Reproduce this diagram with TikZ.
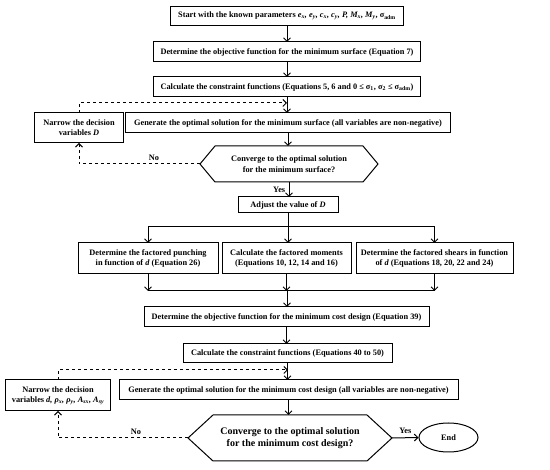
\documentclass[tikz,border=0pt]{standalone}
\usepackage{fontspec}
\setmainfont{Liberation Serif}
\usetikzlibrary{shapes.geometric,arrows.meta}
\begin{document}
\begin{tikzpicture}[x=1pt,y=-1pt,
    box/.style={draw,line width=1pt,inner sep=1pt,outer sep=0pt,align=center,
        font=\fontsize{8.3}{10}\selectfont\bfseries},
    hexa/.style={inner sep=1pt,outer sep=0pt,align=center,
        font=\fontsize{8.3}{10.5}\selectfont\bfseries},
    lbl/.style={font=\fontsize{8.3}{10}\selectfont\bfseries},
    line/.style={line width=1pt},
    flow/.style={line width=1pt,-{Straight Barb[length=3.5pt,width=7pt]}},
    back/.style={line width=1pt,dashed,-{Straight Barb[length=3.5pt,width=7pt]}}]
    \useasboundingbox (0,0) rectangle (550,470);
    % first stage: minimum surface
    \node[box,minimum width=233pt,minimum height=19pt] (start) at (287,16)
        {Start with the known parameters \textit{e\textsubscript{x}, e\textsubscript{y}, c\textsubscript{x}, c\textsubscript{y}, P, M\textsubscript{x}, M\textsubscript{y}}, σ\textsubscript{adm}};
    \node[box,minimum width=267pt,minimum height=20pt] (objA) at (287,52)
        {Determine the objective function for the minimum surface (Equation 7)};
    \node[box,minimum width=267pt,minimum height=20pt] (conA) at (287,87)
        {Calculate the constraint functions (Equations 5, 6 and 0 ≤ σ\textsubscript{1}, σ\textsubscript{2} ≤ σ\textsubscript{adm})};
    \node[box,minimum width=325pt,minimum height=20pt] (genA) at (288,123)
        {Generate the optimal solution for the minimum surface (all variables are non-negative)};
    \node[box,minimum width=89pt,minimum height=30pt] (narA) at (79,128)
        {Narrow the decision\\variables \textit{D}};
    \node[hexa,minimum width=178pt,minimum height=36pt] (hexA) at (289,164)
        {Converge to the optimal solution\\for the minimum surface?};
    \draw[line] (hexA.west) -- ([xshift=15pt]hexA.north west) -- ([xshift=-15pt]hexA.north east)
        -- (hexA.east) -- ([xshift=-15pt]hexA.south east) -- ([xshift=15pt]hexA.south west) -- cycle;
    \node[box,minimum width=100pt,minimum height=16pt] (adj) at (288,205)
        {Adjust the value of \textit{D}};
    % factored actions
    \node[box,minimum width=140pt,minimum height=31pt] (punch) at (148,258.5)
        {Determine the factored punching\\in function of \textit{d} (Equation 26)};
    \node[box,minimum width=129pt,minimum height=31pt] (moment) at (286.5,258.5)
        {Calculate the factored moments\\(Equations 10, 12, 14 and 16)};
    \node[box,minimum width=157pt,minimum height=31pt] (shear) at (434.5,258.5)
        {Determine the factored shears in function\\of \textit{d} (Equations 18, 20, 22 and 24)};
    % second stage: minimum cost
    \node[box,minimum width=285pt,minimum height=20pt] (objB) at (286.5,317)
        {Determine the objective function for the minimum cost design (Equation 39)};
    \node[box,minimum width=209pt,minimum height=19pt] (conB) at (287.5,353.5)
        {Calculate the constraint functions (Equations 40 to 50)};
    \node[box,minimum width=339pt,minimum height=20pt] (genB) at (288.5,390)
        {Generate the optimal solution for the minimum cost design (all variables are non-negative)};
    \node[box,minimum width=105pt,minimum height=31pt] (narB) at (58,395.5)
        {Narrow the decision\\variables \textit{d, ρ\textsubscript{x}, ρ\textsubscript{y}, A\textsubscript{sx}, A\textsubscript{sy}}};
    \node[hexa,minimum width=204pt,minimum height=46pt,font=\fontsize{10}{12.5}\selectfont\bfseries] (hexB) at (290,438)
        {Converge to the optimal solution\\for the minimum cost design?};
    \draw[line] (hexB.west) -- ([xshift=25pt]hexB.north west) -- ([xshift=-25pt]hexB.north east)
        -- (hexB.east) -- ([xshift=-25pt]hexB.south east) -- ([xshift=25pt]hexB.south west) -- cycle;
    \node[ellipse,draw,line width=1pt,minimum width=59pt,minimum height=29pt,inner sep=0pt,
        font=\fontsize{8.3}{10}\selectfont\bfseries] (end) at (448.5,437.5) {End};
    % helper points
    \coordinate (loopA) at (287,103);
    \coordinate (split) at (288,227);
    \coordinate (merge) at (287,291);
    \coordinate (loopB) at (288,370);
    % connectors
    \draw[flow] (start.south) -- (start.south |- objA.north);
    \draw[flow] (objA.south) -- (objA.south |- conA.north);
    \draw[flow] (conA.south) -- (conA.south |- genA.north);
    \draw[flow] (genA.south) -- (genA.south |- hexA.north);
    \draw[flow] (hexA.south) -- node[left,lbl]{Yes} (hexA.south |- adj.north);
    \draw[back] (hexA.west) -| node[pos=0.19,above,lbl]{No} (narA.south);
    \draw[back] (narA.north) |- (loopA);
    \draw[line] (adj.south) -- (split);
    \draw[line] (split -| punch.north) -- (split -| shear.north);
    \draw[flow] (split -| punch.north) -- (punch.north);
    \draw[flow] (split) -- (split |- moment.north);
    \draw[flow] (split -| shear.north) -- (shear.north);
    \draw[flow] (punch.south) -- (merge -| punch.south);
    \draw[flow] (moment.south) -- (merge -| moment.south);
    \draw[flow] (shear.south) -- (merge -| shear.south);
    \draw[line] (merge -| punch.south) -- (merge -| shear.south);
    \draw[flow] (merge) -- (merge |- objB.north);
    \draw[flow] (objB.south) -- (objB.south |- conB.north);
    \draw[flow] (conB.south) -- (conB.south |- genB.north);
    \draw[flow] (genB.south) -- (genB.south |- hexB.north);
    \draw[back] (hexB.west) -| node[pos=0.2,above,lbl]{No} (narB.south);
    \draw[back] (narB.north) |- (loopB);
    \draw[flow] (hexB.east) -- node[above,lbl]{Yes} (end.west);
\end{tikzpicture}
\end{document}
